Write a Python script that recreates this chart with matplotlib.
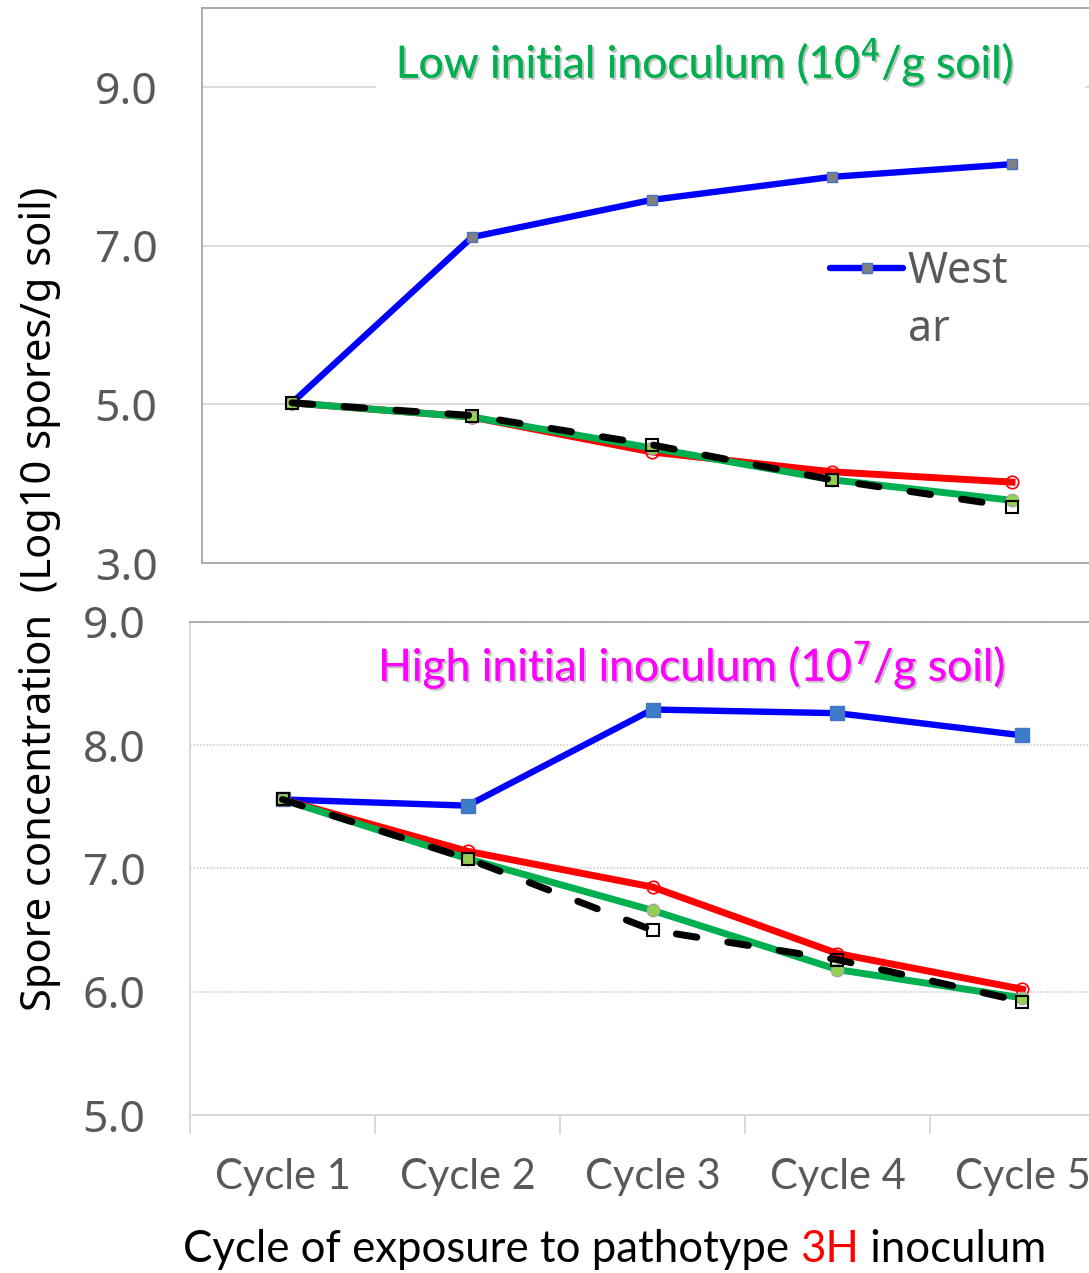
import matplotlib
matplotlib.use("Agg")
import matplotlib.pyplot as plt
import matplotlib.patheffects as pe
from matplotlib.patches import Rectangle

W, H = 1089, 1273
DPI = 100

cycles = ["Cycle 1", "Cycle 2", "Cycle 3", "Cycle 4", "Cycle 5"]

# Low initial inoculum (top panel)
low_blue = [5.02, 7.11, 7.58, 7.87, 8.03]
low_red = [5.02, 4.84, 4.40, 4.15, 4.02]
low_green = [5.02, 4.84, 4.45, 4.05, 3.79]
low_black = [5.02, 4.86, 4.49, 4.05, 3.71]

# High initial inoculum (bottom panel)
high_blue = [7.56, 7.51, 8.29, 8.26, 8.08]
high_red = [7.56, 7.14, 6.85, 6.31, 6.02]
high_green = [7.56, 7.08, 6.66, 6.18, 5.95]
high_black = [7.56, 7.08, 6.50, 6.26, 5.92]

top_yticks = [3.0, 5.0, 7.0, 9.0]
bot_yticks = [5.0, 6.0, 7.0, 8.0, 9.0]

legend_label = "West"
legend_label2 = "ar"

fig = plt.figure(figsize=(W / DPI, H / DPI), dpi=DPI)


def rect(l, t, r, b):
    return [l / W, 1 - b / H, (r - l) / W, (b - t) / H]


ax1 = fig.add_axes(rect(202, 8, 1102, 563))
ax2 = fig.add_axes(rect(190, 622, 1115, 1115))

x = list(range(len(cycles)))
TICK_FONT = "Noto Sans"
CAL = "Lato"
GRAY_TXT = "#595959"


def style_lines(ax, blue, red, green, black, blue_face, blue_ms):
    ax.plot(x, blue, color="#0000FF", lw=4.6, marker="s", ms=blue_ms,
            mfc=blue_face, mec="#4472C4", mew=1.0, solid_capstyle="round",
            zorder=3, label=legend_label)
    ax.plot(x, red, color="#FF0000", lw=5.0, marker="o", ms=9,
            mfc="none", mec="#FF0000", mew=1.2, zorder=4)
    ax.plot(x, green, color="#00B050", lw=5.0, marker="o", ms=9,
            mfc="#92D050", mec="#A6A6A6", mew=1.0, zorder=5)
    ax.plot(x, black, color="black", lw=5.0, ls=(0, (3.0, 4.5)),
            dash_capstyle="round", marker="s", ms=8.5,
            mfc="none", mec="black", mew=1.5, zorder=6)


style_lines(ax1, low_blue, low_red, low_green, low_black, "#808080", 7.5)
style_lines(ax2, high_blue, high_red, high_green, high_black, "#3D7CC9", 10)

# ---- top axes
ax1.set_xlim(-0.5, 4.5)
ax1.set_ylim(3.0, 10.0)
ax1.set_yticks(top_yticks)
ax1.set_yticklabels([f"{v:.1f}" for v in top_yticks])
ax1.set_xticks([])
ax1.grid(axis="y", color="#D9D9D9", lw=1.3)
ax1.set_axisbelow(True)
for s in ["left", "top", "bottom", "right"]:
    ax1.spines[s].set_color("#A6A6A6")
    ax1.spines[s].set_linewidth(1.3)
ax1.tick_params(axis="y", length=0, pad=32, labelsize=32, labelcolor=GRAY_TXT)
for lbl in ax1.get_yticklabels():
    lbl.set_fontfamily(TICK_FONT)

# white box behind the title (covers the gridline)
ax1.add_patch(Rectangle(((376 - 202) / 900, (563 - 100) / 555), (1085 - 376) / 900, 70 / 555,
                        transform=ax1.transAxes, facecolor="white", edgecolor="none", zorder=2))
shadow = [pe.withSimplePatchShadow(offset=(1.5, -1.5), shadow_rgbFace="#9a9a9a", alpha=0.6), pe.Normal()]
ax1.text((705 - 202) / 900, (563 - 62) / 555, r"Low initial inoculum (10$^{4}$/g soil)",
         transform=ax1.transAxes, ha="center", va="center", color="#00B050",
         fontsize=32, family=CAL, zorder=7, path_effects=shadow)

leg = ax1.legend(loc="center left", bbox_to_anchor=((830 - 202) / 900, (563 - 272) / 555),
                 frameon=False, handlelength=1.7, handletextpad=0.1,
                 borderaxespad=0, borderpad=0, labelcolor=GRAY_TXT,
                 prop={"family": TICK_FONT, "size": 31})
ax1.text((908 - 202) / 900, (563 - 330) / 555, legend_label2, transform=ax1.transAxes,
         ha="left", va="center", color=GRAY_TXT, fontsize=31, family=TICK_FONT)

# ---- bottom axes
ax2.set_xlim(-0.5, 4.5)
ax2.set_ylim(5.0, 9.0)
ax2.set_yticks(bot_yticks)
ax2.set_yticklabels([f"{v:.1f}" for v in bot_yticks])
ax2.set_xticks(x)
ax2.set_xticklabels(cycles)
ax2.set_xticks([i - 0.5 for i in range(len(cycles) + 1)], minor=True)
ax2.grid(axis="y", color="#D0D0D0", lw=1.2, ls=(0, (1, 1)))
ax2.set_axisbelow(True)
ax2.spines["top"].set_color("#A6A6A6")
ax2.spines["top"].set_linewidth(1.3)
ax2.spines["left"].set_color("#D9D9D9")
ax2.spines["left"].set_linewidth(1.5)
ax2.spines["bottom"].set_color("#D9D9D9")
ax2.spines["bottom"].set_linewidth(1.5)
ax2.spines["right"].set_visible(False)
ax2.tick_params(axis="y", length=0, pad=32, labelsize=32, labelcolor=GRAY_TXT)
ax2.tick_params(axis="x", which="major", length=0, pad=31, labelsize=30, labelcolor=GRAY_TXT)
ax2.tick_params(axis="x", which="minor", length=14, width=1.5, color="#D9D9D9")
for lbl in ax2.get_yticklabels():
    lbl.set_fontfamily(TICK_FONT)
for lbl in ax2.get_xticklabels():
    lbl.set_fontfamily(CAL)

ax2.text((692 - 190) / 925, (1115 - 665) / 493, r"High initial inoculum (10$^{7}$/g soil)",
         transform=ax2.transAxes, ha="center", va="center", color="#FF00FF",
         fontsize=32, family=CAL, zorder=7, path_effects=shadow)

# ---- y label (shared)
fig.text(40 / W, 1 - 599 / H, "Spore concentration  (Log10 spores/g soil)",
         rotation=90, ha="center", va="center", fontsize=30, family=TICK_FONT, color="black")

# ---- x label with coloured "3H"
t1 = fig.text(183 / W, 1 - 1250 / H, "Cycle of exposure to pathotype ", ha="left", va="center",
              fontsize=31.5, family=CAL, color="black")
t2 = plt.annotate("3H", xy=(1, 0), xycoords=t1, xytext=(0, 0), textcoords="offset points",
                  ha="left", va="bottom", fontsize=31.5, family=CAL, color="#FF0000")
t3 = plt.annotate(" inoculum", xy=(1, 0), xycoords=t2, xytext=(0, 0), textcoords="offset points",
                  ha="left", va="bottom", fontsize=31.5, family=CAL, color="black")

fig.savefig("out.png", dpi=DPI)
